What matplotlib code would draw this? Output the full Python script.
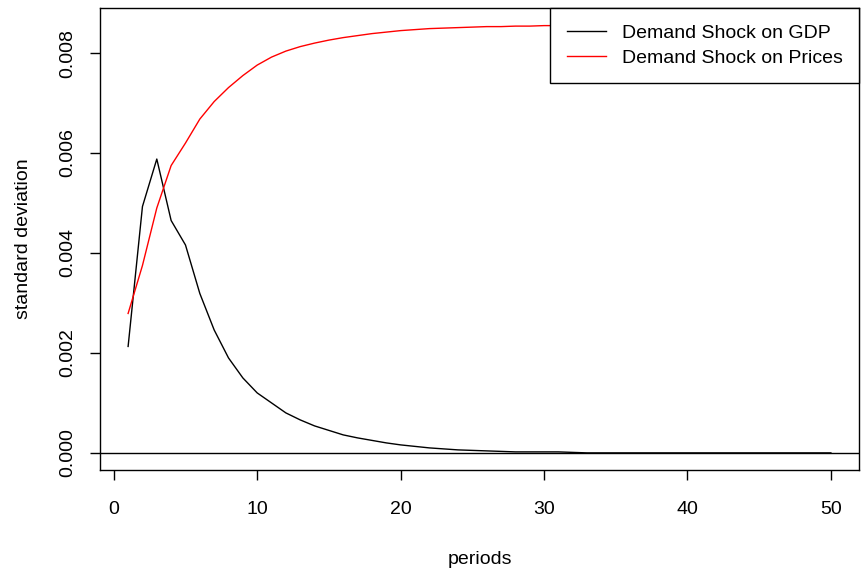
import matplotlib
matplotlib.use("Agg")
import matplotlib.pyplot as plt
import numpy as np

plt.rcParams['font.family'] = ['Liberation Sans', 'DejaVu Sans']

periods = list(range(1, 51))
gdp = [0.00213, 0.00493, 0.00588, 0.00465, 0.00416, 0.00319, 0.00246, 0.00190,
       0.00150, 0.00120, 0.00100, 0.00080, 0.00066, 0.00054, 0.00045, 0.00036,
       0.00030, 0.00025, 0.00020, 0.00016, 0.00013, 0.00010, 0.00008, 0.00006,
       0.00005, 0.00004, 0.00003, 0.00002, 0.00002, 0.00002, 0.00002, 0.00001,
       0.00000, 0.00000, 0.00000, 0.00000, 0.00000, 0.00000, 0.00000, 0.00000,
       0.00000, 0.00000, 0.00000, 0.00000, 0.00000, 0.00000, 0.00000, 0.00000,
       0.00000, 0.00000]
prices = [0.00279, 0.00375, 0.00490, 0.00575, 0.00620, 0.00668, 0.00703, 0.00731,
          0.00755, 0.00776, 0.00792, 0.00804, 0.00813, 0.00820, 0.00826, 0.00831,
          0.00835, 0.00839, 0.00842, 0.00845, 0.00847, 0.00849, 0.00850, 0.00851,
          0.00852, 0.00853, 0.00853, 0.00854, 0.00854, 0.00855, 0.00855, 0.00855,
          0.00855, 0.00856, 0.00856, 0.00856, 0.00856, 0.00856, 0.00856, 0.00856,
          0.00856, 0.00856, 0.00856, 0.00856, 0.00856, 0.00856, 0.00856, 0.00856,
          0.00856, 0.00856]
xticks = [0, 10, 20, 30, 40, 50]
yticks = [0.000, 0.002, 0.004, 0.006, 0.008]
ytick_labels = ["0.000", "0.002", "0.004", "0.006", "0.008"]

W, H = 864, 578
fig = plt.figure(figsize=(W / 100, H / 100), dpi=100)
ax = fig.add_axes([100 / W, (H - 470) / H, (859 - 100) / W, (470 - 8) / H])

ax.plot(periods, gdp, color='black', lw=1, label='Demand Shock on GDP')
ax.plot(periods, prices, color='red', lw=1, label='Demand Shock on Prices')
ax.axhline(0, color='black', lw=1)

xmin, xmax = 1, 50
dx = (xmax - xmin) * 0.04
ax.set_xlim(xmin - dx, xmax + dx)
ymin, ymax = min(min(gdp), min(prices)), max(max(gdp), max(prices))
dy = (ymax - ymin) * 0.04
ax.set_ylim(ymin - dy, ymax + dy)

ax.set_xticks(xticks)
ax.set_xticklabels([str(v) for v in xticks])
ax.set_yticks(yticks)
ax.set_yticklabels(ytick_labels, rotation=90, va='center')
ax.tick_params(direction='out', length=7, width=1, labelsize=14, colors='black')
ax.tick_params(axis='x', pad=15)
ax.tick_params(axis='y', pad=10)
for s in ax.spines.values():
    s.set_linewidth(1)
    s.set_color('black')

ax.set_xlabel('periods', fontsize=14, labelpad=24)
ax.set_ylabel('standard deviation', fontsize=14, labelpad=20)

leg = ax.legend(loc='upper right', fontsize=14, frameon=True, fancybox=False,
                edgecolor='black', framealpha=1, borderaxespad=0,
                handlelength=2.0, handletextpad=0.82, borderpad=0.85,
                labelspacing=0.36)
leg.get_frame().set_linewidth(1)

fig.savefig('out.png', dpi=100)
